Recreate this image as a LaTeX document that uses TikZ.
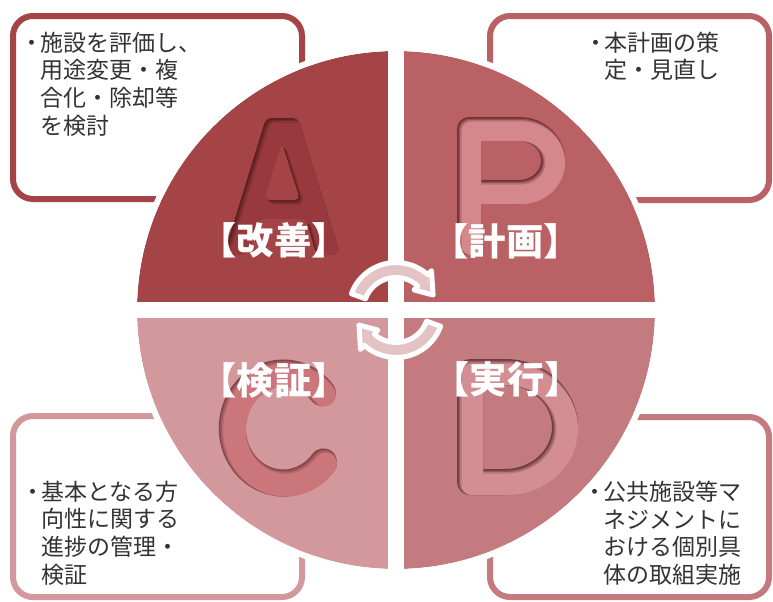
\documentclass[tikz,border=0pt]{standalone}
\usepackage{fontspec}
\newfontfamily\jp{Noto Sans CJK JP}
\definecolor{qA}{HTML}{A54447}
\definecolor{qP}{HTML}{B96164}
\definecolor{qC}{HTML}{D2989C}
\definecolor{qD}{HTML}{C47B7F}
\definecolor{fA}{HTML}{983A3D}
\definecolor{sA}{HTML}{5E1F21}
\definecolor{fP}{HTML}{D5888C}
\definecolor{sP}{HTML}{6E3235}
\definecolor{fC}{HTML}{CB767B}
\definecolor{sC}{HTML}{84464A}
\definecolor{fD}{HTML}{D38E93}
\definecolor{sD}{HTML}{6E3C3F}
\definecolor{txt}{HTML}{333333}
\definecolor{arrfill}{HTML}{E3C3C4}
\newcommand\mybul{\llap{・\kern-2.5pt}}
\newcommand\embstroke[4]{%
  \draw[#3, line width=#4*0.75pt] #1;
  \draw[#2!35!#3, line width=(#4-1.5)*0.75pt, shift={(0.75,0.75)}] #1;
  \draw[#2!70!#3, line width=(#4-3)*0.75pt, shift={(1.5,1.5)}] #1;
  \draw[#2, line width=(#4-4.5)*0.75pt, shift={(2.25,2.25)}] #1;
}
\tikzset{
  box/.style={line width=4.5pt, rounded corners=15pt, fill=white},
  btxt/.style={align=left, inner sep=0pt, text=txt, anchor=north west,
    font=\jp\fontsize{17.25}{20.85}\selectfont},
  lab/.style={inner sep=0pt, text=white, font=\jp\bfseries\fontsize{28}{30}\selectfont},
  letter/.style={line cap=round, line join=round},
  arr/.style={fill=arrfill, draw=white, line width=3.75pt, line join=round}
}
\begin{document}
\begin{tikzpicture}[x=0.75pt,y=-0.75pt]
\useasboundingbox (0,0) rectangle (773,601);
\fill[white] (0,0) rectangle (773,601);

% boxes
\draw[box, draw=qA] (13,16) rectangle (302,199);
\draw[box, draw=qP] (490,16) rectangle (769,200);
\draw[box, draw=qC] (13,416) rectangle (302,597);
\draw[box, draw=qD] (490,417) rectangle (769,597);

% quadrants
\begin{scope}[shift={(396,310)}]
\fill[qA] (0,0) -- (180:259) arc[start angle=180,end angle=270,radius=259] -- cycle;
\fill[qP] (0,0) -- (270:259) arc[start angle=270,end angle=360,radius=259] -- cycle;
\fill[qD] (0,0) -- (0:259) arc[start angle=0,end angle=90,radius=259] -- cycle;
\fill[qC] (0,0) -- (90:259) arc[start angle=90,end angle=180,radius=259] -- cycle;
\draw[white, line width=4.5pt] (0,0) circle[radius=262];
\end{scope}
\fill[white] (388,45) rectangle (404,575);
\fill[white] (130,302) rectangle (662,318);

% letter A
\def\Aout{(224,254) -- (266,118) -- (298,118) -- (340,254) -- (316,254) -- (306,218) -- (259,218) -- (248,254) -- cycle}
\def\Ahole{(282,143) -- (300,200) -- (264,200) -- cycle}
\begin{scope}[rounded corners=4pt]
\clip \Aout;
\fill[sA] \Aout;
\fill[fA!35!sA, shift={(1.5,1.5)}] \Aout;
\fill[fA!70!sA, shift={(3,3)}] \Aout;
\fill[fA, shift={(4.5,4.5)}] \Aout;
\fill[fA!70!sA, shift={(4.5,4.5)}] \Ahole;
\fill[fA!35!sA, shift={(3,3)}] \Ahole;
\fill[sA, shift={(1.5,1.5)}] \Ahole;
\fill[qA] \Ahole;
\end{scope}

% letter P
\begin{scope}[letter]
\embstroke{(469,243) -- (469,129) -- (519,129) arc[start angle=-90,end angle=90,x radius=34,y radius=31.5] -- (469,192)}{fP}{sP}{24}
\end{scope}

% letter C
\begin{scope}[letter]
\embstroke{(322.3,392.6) arc[start angle=-40,end angle=-322,x radius=51,y radius=55]}{fC}{sC}{27}
\end{scope}

% letter D
\begin{scope}[letter]
\embstroke{(470,372) -- (505,372) arc[start angle=-90,end angle=90,x radius=60,y radius=55] -- (470,482) -- cycle}{fD}{sD}{26}
\end{scope}

% labels
\node[lab] (lA) at (274,240) {【改善】};
\node[lab] (lP) at (506,241) {【計画】};
\node[lab] (lC) at (274,380) {【検証】};
\node[lab] (lD) at (507,379) {【実行】};

% cycle arrows
\begin{scope}[shift={(396,310)}]
\filldraw[arr] (-160:47.5) arc[start angle=-160,end angle=-48,radius=47.5] -- (-48:53) -- (-22:40) -- (-48:27) -- (-48:32.5) arc[start angle=-48,end angle=-160,radius=32.5] -- cycle;
\filldraw[arr] (20:47.5) arc[start angle=20,end angle=132,radius=47.5] -- (132:53) -- (158:40) -- (132:27) -- (132:32.5) arc[start angle=132,end angle=20,radius=32.5] -- cycle;
\end{scope}

% box texts
\node[btxt] (tA) at (40,31.5) {\mybul 施設を評価し、\\用途変更・複\\合化・除却等\\を検討};
\node[btxt] (tP) at (604,31.5) {\mybul 本計画の策\\定・見直し};
\node[btxt] (tC) at (41,480.5) {\mybul 基本となる方\\向性に関する\\進捗の管理・\\検証};
\node[btxt] (tD) at (603,480.5) {\mybul 公共施設等マ\\ネジメントに\\おける個別具\\体の取組実施};
\end{tikzpicture}
\end{document}
